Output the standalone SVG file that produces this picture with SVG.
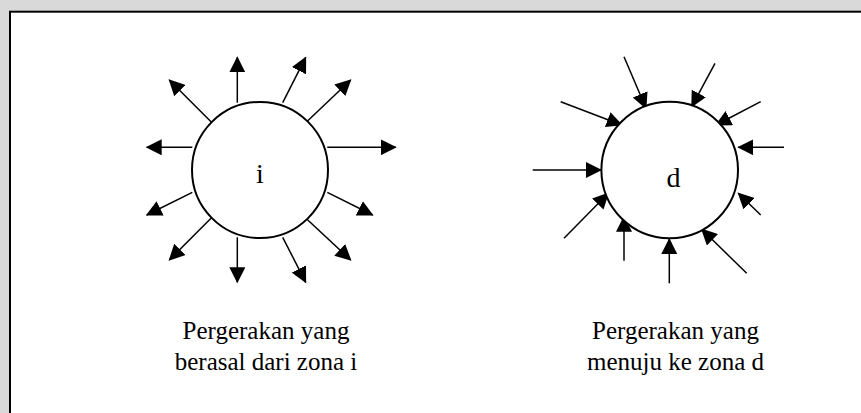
<svg xmlns="http://www.w3.org/2000/svg" width="861" height="413" viewBox="0 0 861 413">
  <style>
    .zone { fill: #ffffff; stroke: #000000; stroke-width: 2; }
    .arr { stroke: #000000; stroke-width: 1.5; fill: none; marker-end: url(#ah); }
    .lbl { font-family: "Liberation Serif", "Times New Roman", serif; fill: #000000; text-anchor: middle; }
    .cap { font-size: 25px; }
    .big { font-size: 28px; }
  </style>
  <defs>
    <marker id="ah" markerUnits="userSpaceOnUse" markerWidth="17" markerHeight="16" refX="15" refY="8" orient="auto" viewBox="0 0 17 16">
      <path d="M0,0 L16,8 L0,16 Z" fill="#000000"/>
    </marker>
  </defs>
  <rect x="0" y="0" width="861" height="413" fill="#d9d9d9"/>
  <rect id="frame" x="10" y="11.7" width="900" height="450" fill="#ffffff" stroke="#000000" stroke-width="2"/>

  <g id="connectors">
    <line class="arr" x1="237.3" y1="102.7" x2="237.3" y2="57.3"/>
    <line class="arr" x1="282.7" y1="102.7" x2="305.7" y2="57.3"/>
    <line class="arr" x1="306.7" y1="121.7" x2="350.7" y2="80"/>
    <line class="arr" x1="327.3" y1="147.3" x2="395.7" y2="147.3"/>
    <line class="arr" x1="327.3" y1="192.3" x2="372.7" y2="215"/>
    <line class="arr" x1="306.7" y1="219" x2="350.7" y2="260"/>
    <line class="arr" x1="282.7" y1="237.3" x2="305.7" y2="282.3"/>
    <line class="arr" x1="237.3" y1="237.3" x2="237.3" y2="282.3"/>
    <line class="arr" x1="213.3" y1="216" x2="169.3" y2="260"/>
    <line class="arr" x1="192.3" y1="192.3" x2="146.7" y2="215"/>
    <line class="arr" x1="192.3" y1="147.3" x2="146.7" y2="147.3"/>
    <line class="arr" x1="214.3" y1="125" x2="169.3" y2="80"/>

    <line class="arr" x1="624" y1="56.7" x2="646" y2="108.3"/>
    <line class="arr" x1="715" y1="63.3" x2="691.7" y2="106.7"/>
    <line class="arr" x1="560.7" y1="101.7" x2="621.7" y2="125"/>
    <line class="arr" x1="760.7" y1="101.7" x2="716" y2="125"/>
    <line class="arr" x1="784" y1="147.3" x2="738.3" y2="147.3"/>
    <line class="arr" x1="532.7" y1="170" x2="601" y2="170"/>
    <line class="arr" x1="564" y1="238.3" x2="608.3" y2="193.3"/>
    <line class="arr" x1="760.7" y1="215" x2="738.3" y2="193.3"/>
    <line class="arr" x1="624" y1="260.7" x2="624" y2="216.7"/>
    <line class="arr" x1="669.3" y1="283.3" x2="669.3" y2="239"/>
    <line class="arr" x1="746.7" y1="273.3" x2="701.7" y2="229.3"/>
  </g>

  <g id="zone-i">
    <circle class="zone" cx="260" cy="170" r="68"/>
    <text class="lbl big" x="260" y="183">i</text>
  </g>
  <g id="zone-d">
    <circle class="zone" cx="669.7" cy="170" r="68.3"/>
    <text class="lbl big" x="673.5" y="186.5">d</text>
  </g>

  <g id="caption-i">
    <text class="lbl cap" x="266" y="339">Pergerakan yang</text>
    <text class="lbl cap" x="266" y="370">berasal dari zona i</text>
  </g>
  <g id="caption-d">
    <text class="lbl cap" x="675.5" y="339">Pergerakan yang</text>
    <text class="lbl cap" x="675.5" y="370">menuju ke zona d</text>
  </g>
</svg>
